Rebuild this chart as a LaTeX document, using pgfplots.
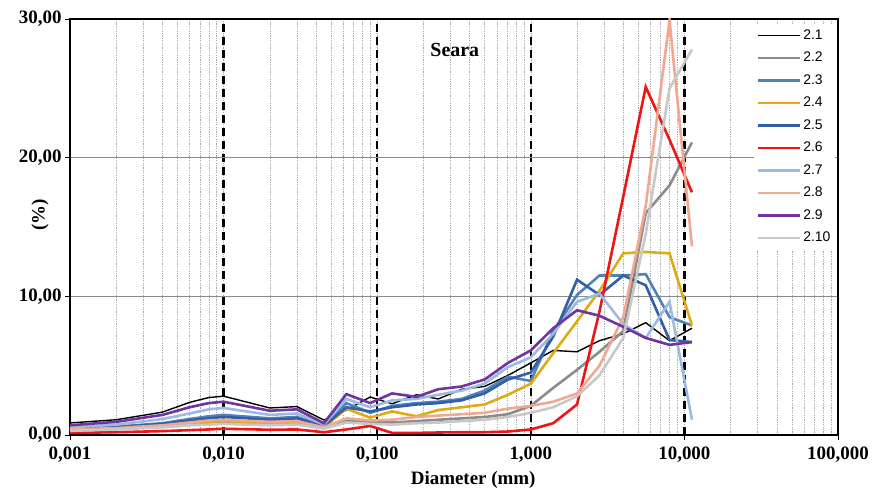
\documentclass[border=0pt]{standalone}
\usepackage{pgfplots}
\pgfplotsset{compat=1.18}
\usepackage{pgfplotstable}
\usepackage{fontspec}
\setmainfont{Liberation Serif}
\newfontfamily\legfont{Liberation Sans}
\definecolor{cA}{RGB}{0,0,0}
\definecolor{cB}{RGB}{140,140,140}
\definecolor{cC}{RGB}{80,130,185}
\definecolor{cD}{RGB}{220,172,20}
\definecolor{cE}{RGB}{52,94,165}
\definecolor{cF}{RGB}{240,20,20}
\definecolor{cG}{RGB}{155,187,225}
\definecolor{cH}{RGB}{240,168,145}
\definecolor{cI}{RGB}{112,52,160}
\definecolor{cJ}{RGB}{200,200,200}
\pgfplotstableread{
x s1 s2 s3 s4 s5 s6 s7 s8 s9 s10
0.001 0.87 0.35 0.45 0.35 0.40 0.15 0.55 0.40 0.70 0.30
0.002 1.10 0.45 0.60 0.45 0.55 0.20 0.75 0.50 0.95 0.40
0.004 1.65 0.60 0.85 0.65 0.80 0.28 1.15 0.70 1.45 0.55
0.006 2.35 0.75 1.15 0.85 1.05 0.35 1.55 0.90 2.00 0.70
0.008 2.70 0.85 1.35 0.95 1.20 0.40 1.85 1.05 2.30 0.75
0.01 2.80 0.90 1.45 1.00 1.30 0.45 1.95 1.10 2.40 0.80
0.02 1.95 0.80 1.20 0.85 1.10 0.38 1.45 0.95 1.75 0.70
0.03 2.05 0.85 1.30 0.90 1.20 0.40 1.55 1.00 1.85 0.75
0.045 1.08 0.50 0.70 0.55 0.65 0.20 0.75 0.55 0.85 0.45
0.063 1.80 1.00 2.30 1.90 2.00 0.40 2.60 1.20 2.95 0.90
0.09 2.74 0.95 1.60 1.25 1.70 0.65 2.00 1.05 2.30 0.80
0.125 2.25 0.90 2.10 1.70 2.00 0.15 2.50 1.10 3.00 0.75
0.18 2.90 1.00 2.30 1.35 2.20 0.15 2.60 1.30 2.75 0.85
0.25 2.60 1.10 2.40 1.80 2.30 0.18 2.90 1.40 3.30 0.90
0.355 3.30 1.20 2.60 2.00 2.50 0.20 3.20 1.50 3.50 1.00
0.5 3.50 1.30 3.20 2.20 3.00 0.20 3.70 1.60 4.00 1.10
0.71 4.30 1.50 4.20 2.90 4.00 0.25 4.90 1.90 5.20 1.30
1 5.20 2.10 3.90 3.70 4.50 0.40 5.60 2.10 6.10 1.60
1.4 6.10 3.40 7.50 5.90 7.10 0.85 7.30 2.40 7.70 2.00
2 6.00 4.70 10.10 8.20 11.20 2.20 9.60 3.00 9.00 2.80
2.8 6.80 6.00 11.50 10.40 10.10 8.90 10.20 5.00 8.60 4.30
4 7.30 7.50 11.50 13.10 11.50 17.20 8.00 8.50 7.80 7.00
5.6 8.10 16.00 11.60 13.20 10.80 25.10 7.00 16.50 7.00 14.50
8 6.80 18.00 8.50 13.10 6.85 21.30 9.60 29.90 6.50 25.00
11.2 7.70 21.10 7.90 7.90 6.70 17.50 1.10 13.60 6.70 27.80
}\data
\begin{document}
\begin{tikzpicture}
\begin{axis}[name=ax, scale only axis, width=768bp, height=416bp,
  xmode=log, xmin=0.001, xmax=100, ymin=0, ymax=30,
  xtick={0.001,0.01,0.1,1,10,100},
  xticklabels={{0,001},{0,010},{0,100},{1,000},{10,000},{100,000}},
  ytick={0,10,20,30},
  yticklabels={{0,00},{10,00},{20,00},{30,00}},
  xmajorgrids, xminorgrids, ymajorgrids,
  major x grid style={black, line width=2.4bp, dash pattern=on 8bp off 5bp},
  minor x grid style={gray!70, line width=0.4bp, dash pattern=on 1.2bp off 1.2bp},
  major y grid style={gray!90, line width=0.7bp},
  axis line style={black, line width=1.4bp},
  tick align=outside, major tick length=5bp, minor tick length=0pt,
  tick pos=left, tick style={black, line width=0.8bp},
  tick label style={font=\bfseries\fontsize{19}{19}\selectfont},
  xticklabel style={yshift=-3bp},
  label style={font=\bfseries\fontsize{19}{19}\selectfont},
  xlabel={Diameter (mm)}, ylabel={(\%)},
  xlabel style={at={(axis description cs:0.525,-0.108)}, anchor=center},
  ylabel style={at={(axis description cs:-0.039,0.529)}, anchor=center},
  legend cell align=left,
  legend image code/.code={\draw[#1] (0bp,0bp) -- (42bp,0bp);},
  legend style={at={(axis description cs:0.997,0.988)}, anchor=north east,
    draw=none, fill=white, font=\legfont\fontsize{14}{14}\selectfont,
    row sep=5.5bp, inner sep=3bp,
    nodes={inner sep=2bp, text height=10bp, text depth=3bp}},
]
\addplot[cA, line width=1.4bp] table[x=x,y=s1]{\data};
\addlegendentry{2.1}
\addplot[cB, line width=2.6bp] table[x=x,y=s2]{\data};
\addlegendentry{2.2}
\addplot[cC, line width=2.6bp] table[x=x,y=s3]{\data};
\addlegendentry{2.3}
\addplot[cD, line width=2.6bp] table[x=x,y=s4]{\data};
\addlegendentry{2.4}
\addplot[cE, line width=2.6bp] table[x=x,y=s5]{\data};
\addlegendentry{2.5}
\addplot[cF, line width=2.6bp] table[x=x,y=s6]{\data};
\addlegendentry{2.6}
\addplot[cG, line width=2.6bp] table[x=x,y=s7]{\data};
\addlegendentry{2.7}
\addplot[cH, line width=2.6bp] table[x=x,y=s8]{\data};
\addlegendentry{2.8}
\addplot[cI, line width=2.6bp] table[x=x,y=s9]{\data};
\addlegendentry{2.9}
\addplot[cJ, line width=2.6bp] table[x=x,y=s10]{\data};
\addlegendentry{2.10}
\node[font=\bfseries\fontsize{20}{20}\selectfont] at (axis description cs:0.501,0.925) {Seara};
\end{axis}
\path ([xshift=-70bp,yshift=-56bp]ax.south west) rectangle ([xshift=38bp,yshift=19bp]ax.north east);
\end{tikzpicture}
\end{document}
